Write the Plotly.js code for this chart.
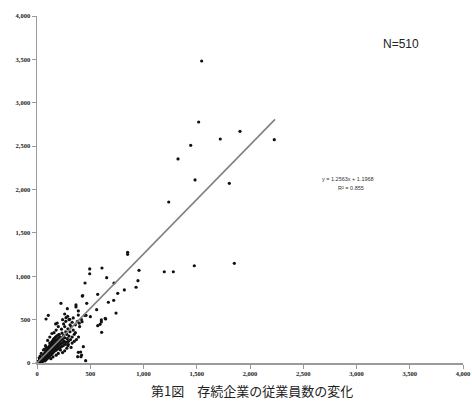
<!DOCTYPE html>
<html>
<head>
<meta charset="utf-8">
<script src="https://cdn.plot.ly/plotly-3.0.1.min.js"></script>
<style>html,body{margin:0;padding:0;background:#fff;}#chart{width:472px;height:403px;}</style>
</head>
<body>
<div id="chart"></div>
<script>
// Large / outlying firms (before, after)
const largeX = [1546,1518,1906,1721,2228,1443,1324,1484,1806,1237,1853,1477,1280,1195];
const largeY = [3481,2778,2671,2582,2574,2509,2352,2110,2071,1856,1149,1121,1052,1052];

// Mid-size firms
const midX = [851,851,958,610,495,495,654,451,723,948,930,820,758,570,429,425,720,670,366,366,225,467,285,388,560,742,260,272,448,460,501,645,604,604,641,592,570,607,416,423,397,106,85,288,307,388,175,410,419,457,382,435,294,413,388];
const midY = [1276,1253,1068,1095,1084,1029,983,922,922,949,873,842,803,792,776,772,723,700,669,646,688,688,626,600,615,576,565,522,550,550,534,507,496,473,515,446,430,354,504,476,458,550,507,538,504,553,450,127,92,27,73,188,215,73,123];

// Small firms (dense cluster near origin)
const smallX = [3,5,6,8,10,12,14,15,17,18,20,21,22,24,25,27,28,30,31,33,34,36,37,38,40,41,42,44,45,46,48,49,50,
52,53,54,55,57,58,59,60,62,63,64,65,67,68,69,70,72,73,74,75,76,78,79,80,81,82,84,85,86,87,88,90,91,92,93,94,96,97,98,99,100,
102,103,104,105,106,108,109,110,111,112,114,115,116,117,118,120,121,122,123,124,126,127,128,129,130,132,133,134,135,136,138,139,140,141,142,144,145,146,147,148,150,151,152,153,154,156,157,158,159,160,
163,165,167,169,171,174,176,178,180,182,185,187,189,191,193,196,198,200,202,204,208,210,212,214,216,220,223,226,229,
235,238,242,246,250,255,260,265,270,275,280,285,290,295,300,310,315,320,330,340,350,360,370,
120,140,100,80,60,180,200,250,330,300,350,320,280,260,240,200,180,150,130,220,40,30,20,160,190,260,230,310,270,240,340,380,400,360,390,290,330,120,90,70];
const smallY = [4,2,9,5,12,7,18,10,22,14,6,27,18,30,12,35,22,15,40,28,19,45,31,8,50,36,24,58,40,15,62,47,30,
70,55,38,20,80,62,45,28,90,72,52,35,100,78,60,42,110,88,66,48,25,120,96,75,55,38,130,105,82,62,44,140,112,90,70,50,150,120,98,78,58,
165,135,108,86,64,175,145,118,95,72,185,155,128,102,80,200,168,138,110,88,210,178,148,120,95,225,190,160,130,100,240,200,170,140,110,250,212,180,150,118,262,222,190,160,128,275,232,198,168,135,
285,245,210,176,142,298,258,220,186,150,310,268,230,195,160,320,278,240,205,170,330,290,250,215,178,300,262,225,188,
345,275,235,200,320,250,290,215,360,240,330,280,395,250,310,360,270,420,300,380,330,440,270,
300,340,260,200,150,380,420,450,470,500,250,180,170,140,120,110,90,70,50,150,110,80,60,350,460,420,390,440,480,500,520,480,420,350,300,200,230,230,180,160];

// Regression line shown in the chart: y = 1.2563x + 1.1968
const trendSlope = 1.2563, trendIntercept = 1.1968;
const trendX = [0, 2235];

const tickVals = [0,500,1000,1500,2000,2500,3000,3500,4000];

const xs = largeX.concat(midX, smallX);
const ys = largeY.concat(midY, smallY);

const tickFont = {family:'Liberation Serif, DejaVu Serif, serif', size:6.5, color:'#222', weight:'bold'};

const data = [
  {type:'scatter', mode:'markers', x:xs, y:ys, cliponaxis:false,
   marker:{color:'#111', size:3.2, symbol:'circle'}, hoverinfo:'skip'},
  {type:'scatter', mode:'lines', x:trendX, y:trendX.map(v=>trendSlope*v+trendIntercept),
   line:{color:'#808080', width:1.6}, hoverinfo:'skip'}
];

const axisCommon = {
  range:[0,4000], tickvals:tickVals, tickformat:',d', separatethousands:true,
  showgrid:false, zeroline:false, showline:true, linecolor:'#9a9a9a', linewidth:1.5,
  ticks:'outside', ticklen:4, tickcolor:'#9a9a9a', tickwidth:1, tickfont:tickFont,
  fixedrange:true
};

const layout = {
  width:472, height:403,
  margin:{l:37, r:9, t:16, b:40},
  paper_bgcolor:'#fff', plot_bgcolor:'#fff',
  showlegend:false,
  xaxis:Object.assign({}, axisCommon),
  yaxis:Object.assign({}, axisCommon),
  annotations:[
    {xref:'paper', yref:'paper', x:0.505, y:-0.08, xanchor:'center', yanchor:'middle', showarrow:false,
     text:'第1図\u3000存続企業の従業員数の変化',
     font:{family:'Noto Sans CJK JP, sans-serif', size:13, color:'#222'}},
    {xref:'paper', yref:'paper', x:0.855, y:0.919, xanchor:'center', yanchor:'middle', showarrow:false,
     text:'N=510', font:{family:'Liberation Sans, Arial, sans-serif', size:12, color:'#222'}},
    {xref:'paper', yref:'paper', x:0.730, y:0.530, xanchor:'center', yanchor:'middle', showarrow:false,
     text:'y = 1.2563x + 1.1968', font:{family:'Liberation Sans, Arial, sans-serif', size:5.5, color:'#333'}},
    {xref:'paper', yref:'paper', x:0.737, y:0.504, xanchor:'center', yanchor:'middle', showarrow:false,
     text:'R² = 0.855', font:{family:'Liberation Sans, Arial, sans-serif', size:5.5, color:'#333'}}
  ]
};

Plotly.newPlot('chart', data, layout, {displayModeBar:false, staticPlot:true});
</script>
</body>
</html>
